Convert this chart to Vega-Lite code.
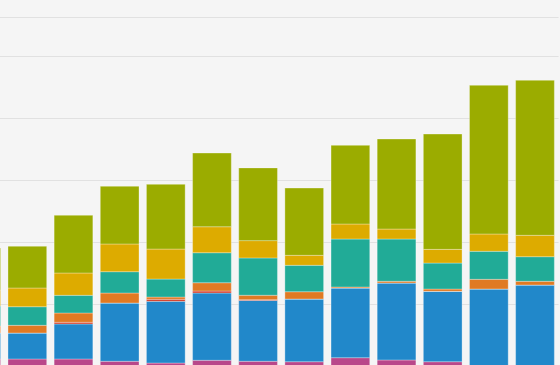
{
  "$schema": "https://vega.github.io/schema/vega-lite/v6.json",
  "width": 560,
  "height": 365,
  "padding": 0,
  "autosize": {"type": "fit", "contains": "padding"},
  "background": "#f5f5f5",
  "config": {"view": {"stroke": null}},
  "data": {
    "values": [
      {"group": "01", "series": "Series 1", "value": 11.3},
      {"group": "01", "series": "Series 2", "value": 41.9},
      {"group": "01", "series": "Series 3", "value": 0},
      {"group": "01", "series": "Series 4", "value": 11.3},
      {"group": "01", "series": "Series 5", "value": 32.3},
      {"group": "01", "series": "Series 6", "value": 25.8},
      {"group": "01", "series": "Series 7", "value": 67.7},

      {"group": "02", "series": "Series 1", "value": 11.3},
      {"group": "02", "series": "Series 2", "value": 41.9},
      {"group": "02", "series": "Series 3", "value": 0},
      {"group": "02", "series": "Series 4", "value": 12.4},
      {"group": "02", "series": "Series 5", "value": 30.0},
      {"group": "02", "series": "Series 6", "value": 30.2},
      {"group": "02", "series": "Series 7", "value": 67.3},

      {"group": "03", "series": "Series 1", "value": 11.3},
      {"group": "03", "series": "Series 2", "value": 56.5},
      {"group": "03", "series": "Series 3", "value": 2.7},
      {"group": "03", "series": "Series 4", "value": 15.0},
      {"group": "03", "series": "Series 5", "value": 28.5},
      {"group": "03", "series": "Series 6", "value": 36.0},
      {"group": "03", "series": "Series 7", "value": 93.1},

      {"group": "04", "series": "Series 1", "value": 7.6},
      {"group": "04", "series": "Series 2", "value": 94.0},
      {"group": "04", "series": "Series 3", "value": 0},
      {"group": "04", "series": "Series 4", "value": 16.1},
      {"group": "04", "series": "Series 5", "value": 34.4},
      {"group": "04", "series": "Series 6", "value": 44.7},
      {"group": "04", "series": "Series 7", "value": 93.1},

      {"group": "05", "series": "Series 1", "value": 4.8},
      {"group": "05", "series": "Series 2", "value": 99.5},
      {"group": "05", "series": "Series 3", "value": 3.2},
      {"group": "05", "series": "Series 4", "value": 3.7},
      {"group": "05", "series": "Series 5", "value": 29.0},
      {"group": "05", "series": "Series 6", "value": 48.4},
      {"group": "05", "series": "Series 7", "value": 104.4},

      {"group": "06", "series": "Series 1", "value": 9.2},
      {"group": "06", "series": "Series 2", "value": 108.5},
      {"group": "06", "series": "Series 3", "value": 3.2},
      {"group": "06", "series": "Series 4", "value": 13.4},
      {"group": "06", "series": "Series 5", "value": 48.4},
      {"group": "06", "series": "Series 6", "value": 41.9},
      {"group": "06", "series": "Series 7", "value": 118.9},

      {"group": "07", "series": "Series 1", "value": 7.6},
      {"group": "07", "series": "Series 2", "value": 98.1},
      {"group": "07", "series": "Series 3", "value": 1.3},
      {"group": "07", "series": "Series 4", "value": 7.1},
      {"group": "07", "series": "Series 5", "value": 60.2},
      {"group": "07", "series": "Series 6", "value": 27.9},
      {"group": "07", "series": "Series 7", "value": 117.3},

      {"group": "08", "series": "Series 1", "value": 6.9},
      {"group": "08", "series": "Series 2", "value": 101.1},
      {"group": "08", "series": "Series 3", "value": 0},
      {"group": "08", "series": "Series 4", "value": 11.8},
      {"group": "08", "series": "Series 5", "value": 42.6},
      {"group": "08", "series": "Series 6", "value": 16.1},
      {"group": "08", "series": "Series 7", "value": 108.5},

      {"group": "09", "series": "Series 1", "value": 13.4},
      {"group": "09", "series": "Series 2", "value": 112.4},
      {"group": "09", "series": "Series 3", "value": 0},
      {"group": "09", "series": "Series 4", "value": 1.6},
      {"group": "09", "series": "Series 5", "value": 77.4},
      {"group": "09", "series": "Series 6", "value": 24.2},
      {"group": "09", "series": "Series 7", "value": 126.9},

      {"group": "10", "series": "Series 1", "value": 9.7},
      {"group": "10", "series": "Series 2", "value": 124.2},
      {"group": "10", "series": "Series 3", "value": 0},
      {"group": "10", "series": "Series 4", "value": 2.7},
      {"group": "10", "series": "Series 5", "value": 68.2},
      {"group": "10", "series": "Series 6", "value": 16.1},
      {"group": "10", "series": "Series 7", "value": 145.2},

      {"group": "11", "series": "Series 1", "value": 6.9},
      {"group": "11", "series": "Series 2", "value": 113.5},
      {"group": "11", "series": "Series 3", "value": 0},
      {"group": "11", "series": "Series 4", "value": 3.7},
      {"group": "11", "series": "Series 5", "value": 41.9},
      {"group": "11", "series": "Series 6", "value": 22.1},
      {"group": "11", "series": "Series 7", "value": 186.0},

      {"group": "12", "series": "Series 1", "value": 0},
      {"group": "12", "series": "Series 2", "value": 124.2},
      {"group": "12", "series": "Series 3", "value": 0},
      {"group": "12", "series": "Series 4", "value": 15.6},
      {"group": "12", "series": "Series 5", "value": 45.2},
      {"group": "12", "series": "Series 6", "value": 27.9},
      {"group": "12", "series": "Series 7", "value": 239.8},

      {"group": "13", "series": "Series 1", "value": 0},
      {"group": "13", "series": "Series 2", "value": 130.6},
      {"group": "13", "series": "Series 3", "value": 0},
      {"group": "13", "series": "Series 4", "value": 6.0},
      {"group": "13", "series": "Series 5", "value": 39.7},
      {"group": "13", "series": "Series 6", "value": 34.5},
      {"group": "13", "series": "Series 7", "value": 250.0}
    ]
  },
  "mark": {"type": "bar", "clip": true, "stroke": "#ffffff", "strokeOpacity": 0.3, "strokeWidth": 1},
  "encoding": {
    "x": {
      "field": "group",
      "type": "ordinal",
      "scale": {"range": [-41.88, 558.07], "paddingInner": 0.161, "paddingOuter": 0.0805},
      "axis": null
    },
    "y": {
      "field": "value",
      "type": "quantitative",
      "stack": "zero",
      "scale": {"domain": [1.61, 590.3], "zero": false, "nice": false},
      "axis": {
        "values": [100, 200, 300, 400, 500, 562.9],
        "grid": true,
        "gridColor": "#e1e1e1",
        "gridWidth": 1,
        "labels": false,
        "ticks": false,
        "domain": false,
        "title": null,
        "minExtent": 0,
        "maxExtent": 0
      }
    },
    "color": {
      "field": "series",
      "type": "nominal",
      "scale": {
        "domain": ["Series 1", "Series 2", "Series 3", "Series 4", "Series 5", "Series 6", "Series 7"],
        "range": ["#b9478a", "#2188ca", "#d33d29", "#e07a23", "#21ab97", "#ddab00", "#9bac00"]
      },
      "legend": null
    },
    "order": {"field": "series", "sort": "ascending"}
  }
}
